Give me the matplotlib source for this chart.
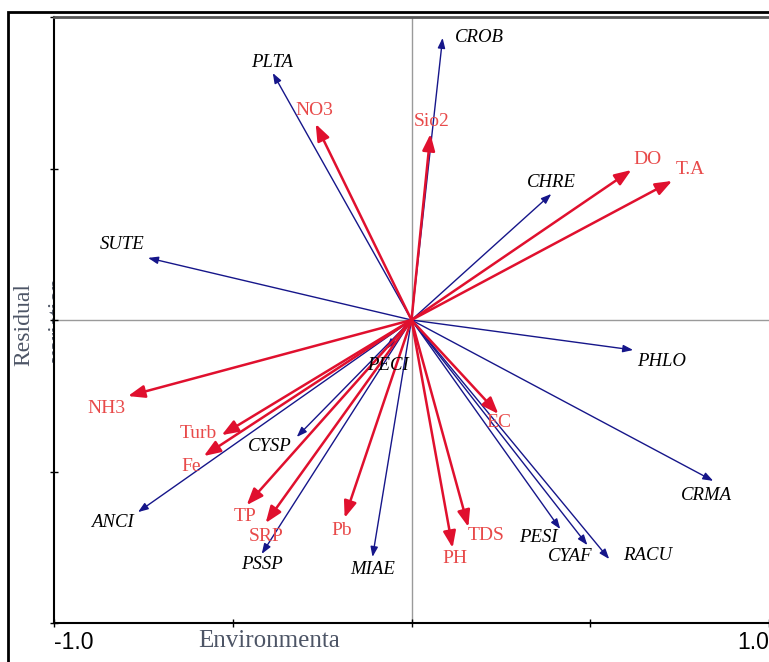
import matplotlib
matplotlib.use("Agg")
import matplotlib.pyplot as plt
from matplotlib.patches import Rectangle

# ---------------- data ----------------
species = ["CROB", "PLTA", "CHRE", "SUTE", "PHLO", "CRMA", "RACU",
           "CYAF", "PESI", "MIAE", "PSSP", "ANCI", "CYSP", "PECI"]
species_x = [0.087, -0.388, 0.391, -0.737, 0.620, 0.844, 0.553,
             0.492, 0.416, -0.109, -0.419, -0.765, -0.321, -0.070]
species_y = [0.931, 0.815, 0.416, 0.205, -0.099, -0.531, -0.789,
             -0.743, -0.690, -0.782, -0.772, -0.634, -0.386, -0.095]

env = ["NO3", "Sio2", "DO", "T.A", "NH3", "Turb", "Fe", "TP", "SRP",
       "Pb", "PH", "TDS", "EC"]
env_x = [-0.268, 0.053, 0.615, 0.729, -0.793, -0.531, -0.581, -0.461,
         -0.408, -0.187, 0.115, 0.159, 0.243]
env_y = [0.647, 0.614, 0.495, 0.459, -0.251, -0.380, -0.449, -0.611,
         -0.670, -0.653, -0.752, -0.683, -0.310]

# label offsets (pixels) relative to arrow tips
species_off = [(37, 0), (-1, 11), (0, 11), (-26, 13), (28, -12), (-7, -15),
               (38, 4), (-17, -11), (-22, -8), (0, -13), (0, -11),
               (-26, -10), (-27, -10), (2, -17)]
env_off = [(-1, 13), (1, 12), (16, 11), (18, 11), (-22, -12), (-23, 2),
           (-13, -10), (-2, -11), (0, -13), (-3, -13), (2, -11), (18, -9),
           (1, -9)]

W, H = 769, 662
fig = plt.figure(figsize=(W / 100, H / 100), dpi=100)
ax = fig.add_axes([54 / W, 1 - 623 / H, (769 - 54) / W, (623 - 17) / H])
ax.set_xlim(-1, 1)
ax.set_ylim(-1, 1)

navy = "#16168a"
red = "#e0102e"
red_txt = "#e84a4a"
grey_txt = "#4d5566"

ax.axhline(0, color="#9a9a9a", lw=1, zorder=1)
ax.axvline(0, color="#9a9a9a", lw=1, zorder=1)

for name, x, y, off in zip(species, species_x, species_y, species_off):
    ax.annotate("", xy=(x, y), xytext=(0, 0),
                arrowprops=dict(arrowstyle="-|>,head_length=0.6,head_width=0.22",
                                color=navy, lw=1.0, shrinkA=0, shrinkB=0,
                                mutation_scale=10), zorder=3)
    ax.annotate(name, xy=(x, y), xytext=off, textcoords="offset pixels",
                ha="center", va="center", fontsize=13.5, style="italic",
                family="Liberation Serif", color="black", zorder=5)

for name, x, y, off in zip(env, env_x, env_y, env_off):
    ax.annotate("", xy=(x, y), xytext=(0, 0),
                arrowprops=dict(arrowstyle="-|>,head_length=1.0,head_width=0.38",
                                color=red, lw=1.8, shrinkA=0, shrinkB=0,
                                mutation_scale=10), zorder=4)
    ax.annotate(name, xy=(x, y), xytext=off, textcoords="offset pixels",
                ha="center", va="center", fontsize=14,
                family="Liberation Serif", color=red_txt, zorder=5)

# spines & ticks
ax.spines["right"].set_visible(False)
ax.spines["top"].set_color("#555555")
ax.spines["top"].set_linewidth(2)
ax.spines["left"].set_linewidth(1.5)
ax.spines["bottom"].set_linewidth(1.5)
ax.set_xticks([-1, -0.5, 0, 0.5, 1])
ax.set_xticklabels(["-1.0", "", "", "", "1.0"], family="Liberation Sans",
                   fontsize=16.5)
ax.set_yticks([-1, -0.5, 0, 0.5, 1])
ax.set_yticklabels([])
ax.tick_params(direction="inout", length=6, width=1, pad=3)
lbls = ax.get_xticklabels()
lbls[0].set_ha("left")
lbls[-1].set_ha("right")

fig.text(198 / W, 1 - 647 / H, "Environmenta", family="Liberation Serif",
         fontsize=18, color=grey_txt, va="baseline", ha="left")
fig.text(24 / W, 1 - 325 / H, "Residual", family="Liberation Serif",
         fontsize=17, color=grey_txt, rotation=90, ha="center", va="center")
fig.text(58 / W, 1 - 320 / H, "variation", family="Liberation Serif",
         fontsize=17, color=grey_txt, rotation=90, ha="center", va="center",
         zorder=-1)

fig.add_artist(Rectangle((8 / W, -0.1), 2, (1 - 12 / H) + 0.1,
                         transform=fig.transFigure, fill=False, lw=2,
                         ec="black"))

fig.savefig("out.png", dpi=100)
